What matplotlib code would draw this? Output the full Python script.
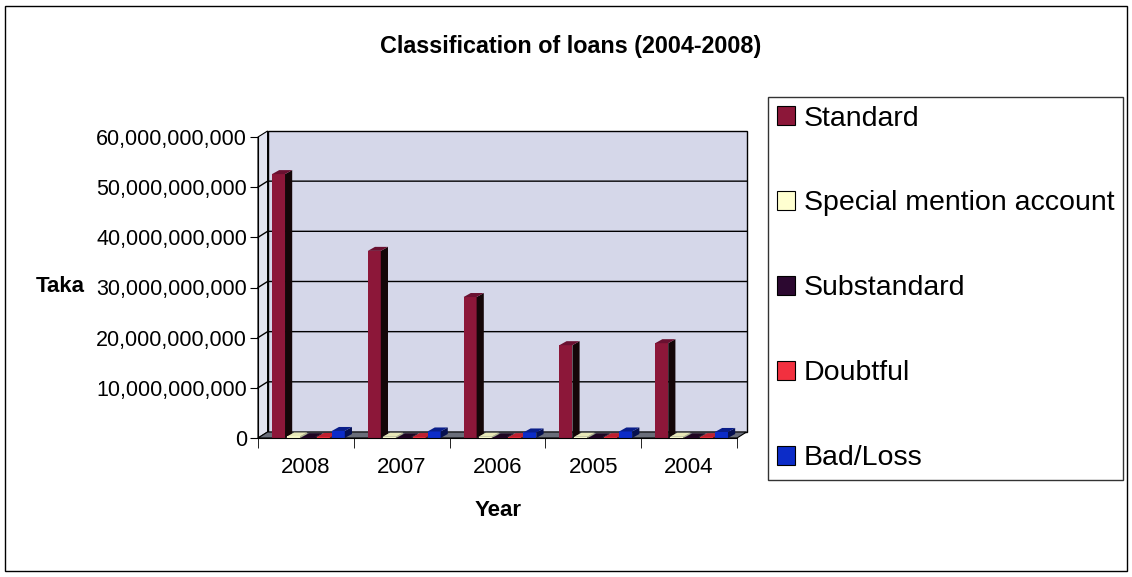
"""Classification of loans (2004-2008) — Excel-style 3D clustered columns."""
import matplotlib
matplotlib.use("Agg")
import matplotlib.pyplot as plt
from matplotlib.patches import Polygon, Rectangle, Patch
from matplotlib.ticker import FuncFormatter, FixedLocator

plt.rcParams["font.family"] = ["Liberation Sans", "DejaVu Sans"]

years = ["2008", "2007", "2006", "2005", "2004"]
series = ["Standard", "Special mention account", "Substandard", "Doubtful", "Bad/Loss"]
standard = [52.6e9, 37.3e9, 28.1e9, 18.5e9, 18.9e9]
special_mention = [0.30e9, 0.25e9, 0.25e9, 0.25e9, 0.25e9]
substandard = [0.15e9, 0.12e9, 0.12e9, 0.12e9, 0.12e9]
doubtful = [0.20e9, 0.18e9, 0.15e9, 0.15e9, 0.15e9]
bad_loss = [1.4e9, 1.3e9, 1.1e9, 1.3e9, 1.2e9]
values = [standard, special_mention, substandard, doubtful, bad_loss]

front = ["#8C1739", "#FFFFD0", "#2C0830", "#F2303F", "#0C2CC8"]
tops = ["#6A1030", "#E8E8B8", "#1E0522", "#C02030", "#0A1E8A"]
sides = ["#140608", "#B8B890", "#0E020F", "#801018", "#061050"]

YMAX = 60e9
DX, DY = 0.10, 1.2e9        # depth offset of the back wall
BDX, BDY = 0.075, 0.8e9     # depth of each column
W, STEP, OFF = 0.136, 0.156, 0.526

fig = plt.figure(figsize=(11.32, 5.77), dpi=100)
ax = fig.add_axes([258 / 1132, 1 - 438 / 577, 479 / 1132, 301 / 577])
ax.set_xlim(0, len(years))
ax.set_ylim(0, YMAX)
ax.patch.set_visible(False)

# walls and floor
ax.add_patch(Rectangle((DX, DY), len(years), YMAX, facecolor="#D5D7E9",
                       edgecolor="black", lw=1, clip_on=False, zorder=0))
ax.add_patch(Polygon([(0, 0), (DX, DY), (DX, YMAX + DY), (0, YMAX)],
                     facecolor="#E2E4F0", edgecolor="black", lw=0.8, clip_on=False, zorder=0))
ax.add_patch(Polygon([(0, 0), (len(years), 0), (len(years) + DX, DY), (DX, DY)],
                     facecolor="#6A6E7A", edgecolor="black", lw=0.8, clip_on=False, zorder=1))
for v in range(10, 60, 10):
    ax.plot([0, DX, len(years) + DX], [v * 1e9, v * 1e9 + DY, v * 1e9 + DY],
            color="black", lw=1, clip_on=False, zorder=1)

# columns
for i in range(len(years)):
    for k in range(len(series)):
        x = i + OFF + (k - 2) * STEP
        h = values[k][i]
        ax.bar(x, h, width=W, color=front[k], edgecolor="none", zorder=3)
        r, l = x + W / 2, x - W / 2
        ax.add_patch(Polygon([(r, 0), (r + BDX, BDY), (r + BDX, h + BDY), (r, h)],
                             facecolor=sides[k], edgecolor="none", zorder=3, clip_on=False))
        ax.add_patch(Polygon([(l, h), (r, h), (r + BDX, h + BDY), (l + BDX, h + BDY)],
                             facecolor=tops[k], edgecolor="none", zorder=3, clip_on=False))

for s in ("top", "right"):
    ax.spines[s].set_visible(False)
ax.spines["left"].set_zorder(4)
ax.spines["bottom"].set_zorder(4)

ax.yaxis.set_major_locator(FixedLocator([v * 1e9 for v in range(0, 70, 10)]))
ax.yaxis.set_major_formatter(FuncFormatter(lambda v, p: f"{v:,.0f}"))
ax.tick_params(axis="y", labelsize=15.5, length=6, direction="out", pad=2)

ax.set_xticks([i + 0.5 for i in range(len(years))])
ax.set_xticklabels(years, fontsize=16)
ax.set_xticks(range(len(years) + 1), minor=True)
ax.tick_params(axis="x", which="major", length=0, pad=14)
ax.tick_params(axis="x", which="minor", length=7, direction="out")

fig.text(60 / 1132, 1 - 287 / 577, "Taka", fontsize=16, fontweight="bold",
         ha="center", va="center")
fig.text(498 / 1132, 1 - 510 / 577, "Year", fontsize=16, fontweight="bold",
         ha="center", va="center")
fig.text(571 / 1132, 1 - 47 / 577, "Classification of loans (2004-2008)",
         fontsize=16.8, fontweight="bold", ha="center", va="center")

handles = [Patch(facecolor=front[k], edgecolor="black", lw=0.8) for k in range(len(series))]
leg = fig.legend(handles, series, loc="upper left", bbox_to_anchor=(768 / 1132, 1 - 97 / 577),
                 fontsize=20.5, frameon=True, fancybox=False, edgecolor="black",
                 handlelength=0.65, handleheight=0.65, handletextpad=0.3,
                 labelspacing=2.07, borderpad=0.3, borderaxespad=0)
leg.get_frame().set_linewidth(1)

# outer chart border
fig.add_artist(Rectangle((5 / 1132, 6 / 577), 1122 / 1132, 565 / 577, transform=fig.transFigure,
                         fill=False, edgecolor="black", lw=1))

fig.savefig("out.png", dpi=100)
